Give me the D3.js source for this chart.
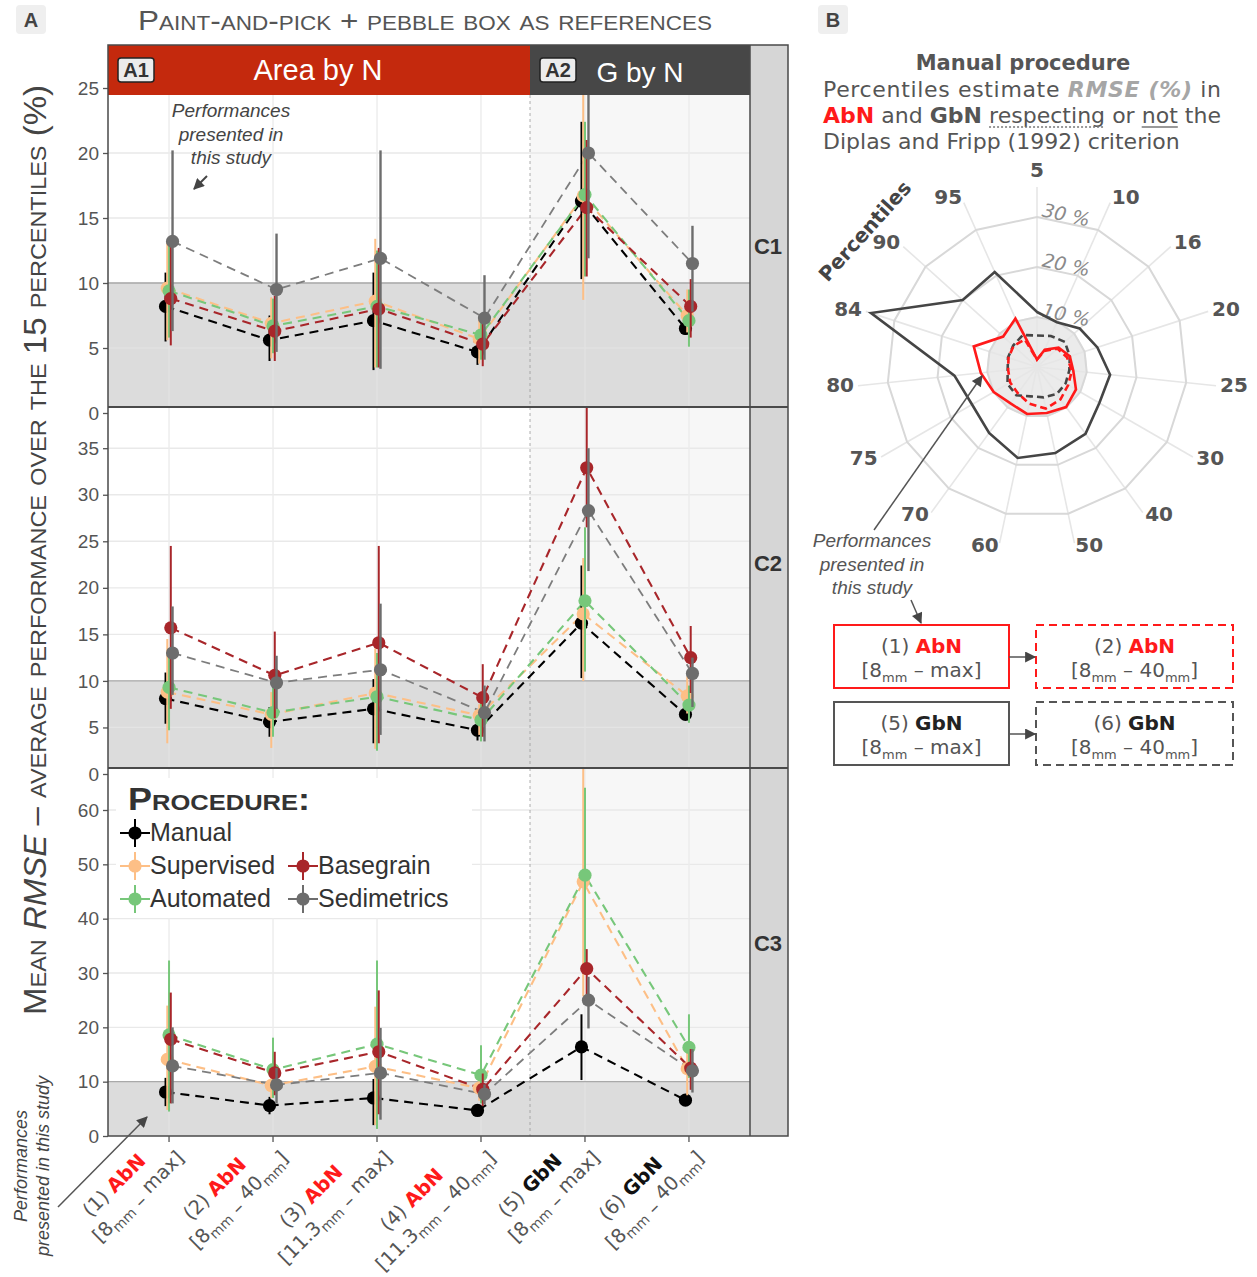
<!DOCTYPE html>
<html>
<head>
<meta charset="utf-8">
<title>Mean RMSE by procedure</title>
<script src="https://cdn.jsdelivr.net/npm/d3@7"></script>
<style>
  html, body { margin: 0; padding: 0; background: #fff; }
  svg { display: block; }
</style>
</head>
<body>
<svg id="fig" width="1257" height="1277"></svg>
<script>
// ---------------- data: panel A ----------------
const categories = [1, 2, 3, 4, 5, 6];
const categoryNumber = ["(1)", "(2)", "(3)", "(4)", "(5)", "(6)"];
const categoryMethod = ["AbN", "AbN", "AbN", "AbN", "GbN", "GbN"];
const categoryFrom = ["8", "8", "11.3", "11.3", "8", "8"];
const categoryTo = ["max", "40", "max", "40", "max", "40"];

const procedures = ["Manual", "Supervised", "Automated", "Basegrain", "Sedimetrics"];
const rowNames = ["C1", "C2", "C3"];
const c1Ticks = [0, 5, 10, 15, 20, 25];
const c2Ticks = [0, 5, 10, 15, 20, 25, 30, 35];
const c3Ticks = [0, 10, 20, 30, 40, 50, 60];

// one row per procedure (Manual, Supervised, Automated, Basegrain, Sedimetrics)
const c1Mean = [
  [8.2, 5.6, 7.1, 4.7, 16.3, 6.5],
  [9.6, 6.9, 8.6, 5.7, 16.7, 7.5],
  [9.4, 6.7, 8.2, 6.0, 16.8, 7.1],
  [8.8, 6.3, 8.0, 5.3, 15.8, 8.2],
  [13.2, 9.5, 11.9, 7.3, 20.0, 11.5]
];
const c1Low = [
  [5.5, 4.0, 3.3, 3.7, 10.3, 6.0],
  [5.6, 4.2, 3.5, 3.8, 8.7, 6.2],
  [5.8, 4.6, 3.5, 4.1, 10.5, 5.1],
  [5.2, 4.0, 3.5, 3.6, 10.5, 5.8],
  [6.3, 4.7, 3.4, 4.1, 11.9, 7.8]
];
const c1High = [
  [10.8, 7.5, 10.8, 5.6, 22.4, 7.2],
  [13.2, 8.9, 13.4, 7.3, 25.5, 9.5],
  [12.9, 8.8, 12.5, 7.4, 22.4, 9.5],
  [12.8, 9.0, 12.7, 7.0, 21.0, 10.3],
  [20.2, 13.8, 20.2, 10.6, 26.5, 14.4]
];

const c2Mean = [
  [8.1, 5.6, 7.0, 4.7, 16.2, 6.4],
  [8.8, 6.4, 8.7, 6.3, 17.2, 8.4],
  [9.3, 6.6, 8.3, 5.8, 18.6, 7.4],
  [15.7, 10.6, 14.1, 8.2, 32.9, 12.5],
  [13.0, 9.8, 11.2, 6.6, 28.3, 10.8]
];
const c2Low = [
  [5.4, 4.0, 3.3, 3.6, 10.3, 5.8],
  [3.3, 2.8, 2.7, 4.2, 10.0, 6.5],
  [4.7, 4.0, 2.5, 3.5, 11.0, 5.5],
  [7.0, 6.0, 3.3, 4.0, 26.5, 8.7],
  [8.5, 7.0, 4.2, 3.5, 21.8, 7.2]
];
const c2High = [
  [10.9, 7.2, 10.2, 5.6, 22.4, 7.0],
  [14.5, 8.8, 13.5, 7.5, 23.2, 10.5],
  [13.0, 9.3, 13.0, 7.7, 26.5, 9.5],
  [24.5, 15.3, 24.5, 11.8, 41.0, 15.9],
  [18.0, 12.7, 18.3, 9.5, 35.0, 12.5]
];

const c3Mean = [
  [8.1, 5.6, 7.0, 4.7, 16.4, 6.6],
  [14.1, 9.3, 12.8, 8.8, 46.8, 12.4],
  [18.6, 12.2, 16.9, 11.2, 48.0, 16.3],
  [17.8, 11.6, 15.5, 8.6, 30.8, 12.5],
  [12.9, 9.4, 11.6, 7.7, 25.0, 12.0]
];
const c3Low = [
  [5.5, 4.0, 2.0, 3.8, 10.3, 5.8],
  [4.8, 7.0, 2.0, 6.5, 25.7, 7.5],
  [4.5, 7.0, 1.3, 6.0, 30.0, 10.7],
  [6.0, 7.5, 4.0, 5.5, 25.0, 8.5],
  [6.0, 6.0, 3.0, 5.8, 19.8, 8.0]
];
const c3High = [
  [10.7, 7.2, 10.5, 5.6, 22.4, 7.4],
  [24.0, 12.5, 23.8, 11.5, 72.0, 17.0],
  [32.3, 18.1, 32.3, 16.7, 64.1, 22.4],
  [26.4, 15.5, 26.8, 11.5, 34.4, 16.0],
  [20.0, 12.5, 19.9, 9.5, 29.3, 16.0]
];

// ---------------- data: panel B (radar) ----------------
const radarPercentiles = ["5", "10", "16", "20", "25", "30", "40", "50", "60", "70", "75", "80", "84", "90", "95"];
const radarRings = [10, 20, 30];
const radarGbNMax = [11.0, 9.8, 11.5, 12.7, 14.7, 14.4, 16.5, 17.6, 18.6, 16.3, 15.0, 16.6, 34.9, 20.0, 20.8];
const radarGbN40 = [6.3, 6.8, 7.5, 6.9, 6.5, 6.6, 6.7, 6.2, 6.0, 7.0, 6.8, 5.9, 6.1, 6.4, 7.0];
const radarAbNMax = [1.5, 3.8, 5.8, 6.9, 7.3, 9.0, 9.9, 9.4, 9.6, 9.0, 10.0, 11.3, 13.3, 9.1, 10.6];
const radarAbN40 = [1.5, 3.5, 5.5, 6.3, 7.0, 7.2, 8.0, 8.5, 7.5, 6.5, 6.2, 5.8, 6.0, 6.3, 6.0];

const keyNumber = ["(1)", "(2)", "(5)", "(6)"];
const keyMethod = ["AbN", "AbN", "GbN", "GbN"];
const keyTo = ["max", "40", "max", "40"];

// ---------------- styling ----------------
const SANS = "'Liberation Sans', Arial, sans-serif";
const VERD = "'DejaVu Sans', Verdana, sans-serif";
const procColor = d3.scaleOrdinal().domain(procedures)
  .range(["#000000", "#fdbf86", "#77c77a", "#a8262a", "#6d6d6d"]);
const lineColor = d3.scaleOrdinal().domain(procedures)
  .range(["#000000", "#fdbf86", "#77c77a", "#a8262a", "#7d7d7d"]);
const RED = "#ff1a1a";
const DARK = "#454545";

const svg = d3.select("#fig").attr("font-family", SANS);
const defs = svg.append("defs");
defs.append("marker").attr("id", "arrow")
  .attr("viewBox", "0 0 10 10").attr("refX", 9).attr("refY", 5)
  .attr("markerUnits", "userSpaceOnUse")
  .attr("markerWidth", 13).attr("markerHeight", 11)
  .attr("orient", "auto")
  .append("path").attr("d", "M0,0L10,5L0,10z").attr("fill", DARK);

// ---------------- panel A layout ----------------
const plotL = 108, plotR = 750, stripR = 788, splitX = 530;
const stripTop = 45, stripBottom = 95;
const rowLayout = [
  { top: stripTop, dataTop: stripBottom, bottom: 407, range: [413, 88], domain: [0, 25], labelY: 248 },
  { top: 407, dataTop: 407, bottom: 768, range: [774, 448.2], domain: [0, 35], labelY: 565 },
  { top: 768, dataTop: 768, bottom: 1136, range: [1136, 810], domain: [0, 60], labelY: 945 }
];
const rowTicks = [c1Ticks, c2Ticks, c3Ticks];
const rowMean = [c1Mean, c2Mean, c3Mean];
const rowLow = [c1Low, c2Low, c3Low];
const rowHigh = [c1High, c2High, c3High];

const x = d3.scalePoint().domain(categories).range([plotL, plotR]).padding(0.587);
const dodge = d3.scalePoint().domain(procedures).range([-3.5, 3.5]);

rowNames.forEach((name, r) => {
  const L = rowLayout[r];
  const y = d3.scaleLinear().domain(L.domain).range(L.range);
  const clipId = "clip-" + name;
  defs.append("clipPath").attr("id", clipId).append("rect")
    .attr("x", plotL).attr("y", L.dataTop)
    .attr("width", plotR - plotL).attr("height", L.bottom - L.dataTop);

  const g = svg.append("g");
  const clipped = g.append("g").attr("clip-path", `url(#${clipId})`);
  // backgrounds of the two facet columns
  clipped.append("rect").attr("x", plotL).attr("y", L.dataTop)
    .attr("width", splitX - plotL).attr("height", L.bottom - L.dataTop).attr("fill", "#ffffff");
  clipped.append("rect").attr("x", splitX).attr("y", L.dataTop)
    .attr("width", plotR - splitX).attr("height", L.bottom - L.dataTop).attr("fill", "#f7f7f7");
  // grid
  clipped.selectAll("line.hg").data(rowTicks[r]).join("line")
    .attr("x1", plotL).attr("x2", plotR).attr("y1", d => y(d)).attr("y2", d => y(d))
    .attr("stroke", "#e9e9e9").attr("stroke-width", 1.4);
  clipped.selectAll("line.vg").data(categories).join("line")
    .attr("x1", d => x(d)).attr("x2", d => x(d)).attr("y1", L.dataTop).attr("y2", L.bottom)
    .attr("stroke", "#ececec").attr("stroke-width", 1.4);
  // shaded band below 10 %
  const y10 = y(10);
  clipped.append("rect").attr("x", plotL).attr("y", y10)
    .attr("width", plotR - plotL).attr("height", L.bottom - y10).attr("fill", "#dcdcdc");
  clipped.selectAll("line.hg2").data(rowTicks[r].filter(t => t < 10)).join("line")
    .attr("x1", plotL).attr("x2", plotR).attr("y1", d => y(d)).attr("y2", d => y(d))
    .attr("stroke", "#e4e4e4").attr("stroke-width", 1.2);
  clipped.selectAll("line.vg2").data(categories).join("line")
    .attr("x1", d => x(d)).attr("x2", d => x(d)).attr("y1", y10).attr("y2", L.bottom)
    .attr("stroke", "#e3e3e3").attr("stroke-width", 1.2);
  clipped.append("line").attr("x1", plotL).attr("x2", plotR).attr("y1", y10).attr("y2", y10)
    .attr("stroke", "#a9a9a9").attr("stroke-width", 1.4);
  // separator between the two methods
  clipped.append("line").attr("x1", splitX).attr("x2", splitX).attr("y1", L.dataTop).attr("y2", L.bottom)
    .attr("stroke", "#9a9a9a").attr("stroke-width", 0.8).attr("stroke-dasharray", "3,3");

  // dashed connecting lines
  const line = d3.line();
  procedures.forEach((p, k) => {
    const pts = rowMean[r][k].map((v, i) => [x(categories[i]) + dodge(p), y(v)]);
    clipped.append("path").attr("d", line(pts)).attr("fill", "none")
      .attr("stroke", lineColor(p)).attr("stroke-width", p === "Sedimetrics" ? 1.8 : 2.1)
      .attr("stroke-dasharray", "9,6");
  });
  // error bars and points
  procedures.forEach((p, k) => {
    const gp = clipped.append("g");
    categories.forEach((c, i) => {
      const cx = x(c) + dodge(p);
      gp.append("line").attr("x1", cx).attr("x2", cx)
        .attr("y1", y(rowLow[r][k][i])).attr("y2", y(rowHigh[r][k][i]))
        .attr("stroke", procColor(p)).attr("stroke-width", p === "Sedimetrics" ? 2.4 : 2);
      gp.append("circle").attr("cx", cx).attr("cy", y(rowMean[r][k][i])).attr("r", 6.6)
        .attr("fill", procColor(p));
    });
  });

  // y axis
  const ax = svg.append("g").attr("transform", `translate(${plotL},0)`)
    .call(d3.axisLeft(y).tickValues(rowTicks[r]).tickSize(5).tickPadding(4));
  ax.select(".domain").remove();
  ax.selectAll(".tick line").attr("stroke", "#555").attr("stroke-width", 1.3);
  ax.selectAll(".tick text").attr("font-size", 19).attr("fill", "#555").attr("font-family", SANS);

  // facet strip on the right
  svg.append("rect").attr("x", plotR).attr("y", L.top).attr("width", stripR - plotR)
    .attr("height", L.bottom - L.top).attr("fill", "#d6d6d6");
  svg.append("text").attr("x", (plotR + stripR) / 2 - 1).attr("y", L.labelY)
    .attr("text-anchor", "middle").attr("dominant-baseline", "middle")
    .attr("font-size", 22).attr("font-weight", "bold").attr("fill", "#333").text(name);
});

// top strips
svg.append("rect").attr("x", plotL).attr("y", stripTop).attr("width", splitX - plotL)
  .attr("height", stripBottom - stripTop).attr("fill", "#c4290d");
svg.append("rect").attr("x", splitX).attr("y", stripTop).attr("width", plotR - splitX)
  .attr("height", stripBottom - stripTop).attr("fill", "#474747");
function stripTag(x0, label) {
  svg.append("rect").attr("x", x0).attr("y", 58).attr("width", 36).attr("height", 24).attr("rx", 3)
    .attr("fill", "#ececec").attr("stroke", "#222").attr("stroke-width", 1.5);
  svg.append("text").attr("x", x0 + 18).attr("y", 77).attr("text-anchor", "middle")
    .attr("font-size", 20).attr("font-weight", "bold").attr("fill", "#333").text(label);
}
stripTag(118, "A1");
stripTag(540, "A2");
svg.append("text").attr("x", 318).attr("y", 80).attr("text-anchor", "middle")
  .attr("font-size", 29).attr("fill", "#fff").text("Area by N");
svg.append("text").attr("x", 640).attr("y", 82).attr("text-anchor", "middle")
  .attr("font-size", 28).attr("fill", "#fff").text("G by N");

// frame lines of panel A
const frame = svg.append("g").attr("stroke", "#4a4a4a").attr("fill", "none");
frame.append("rect").attr("x", plotL).attr("y", stripTop).attr("width", stripR - plotL)
  .attr("height", 1136 - stripTop).attr("stroke-width", 1.5);
[407, 768].forEach(yy => frame.append("line").attr("x1", plotL).attr("x2", stripR)
  .attr("y1", yy).attr("y2", yy).attr("stroke-width", 2));
frame.append("line").attr("x1", plotR).attr("x2", plotR).attr("y1", stripTop).attr("y2", 1136).attr("stroke-width", 1.5);

// x axis ticks and labels
svg.selectAll("line.xt").data(categories).join("line")
  .attr("x1", d => x(d)).attr("x2", d => x(d)).attr("y1", 1136).attr("y2", 1142)
  .attr("stroke", "#555").attr("stroke-width", 1.3);
categories.forEach((c, i) => {
  const g = svg.append("g").attr("transform", `translate(${x(c) + 16},${1159}) rotate(-45)`)
    .attr("font-family", VERD).attr("font-size", 19.5).attr("fill", "#555");
  const t2 = g.append("text").attr("text-anchor", "end");
  t2.append("tspan").text("[" + categoryFrom[i]);
  t2.append("tspan").attr("font-size", 14).attr("dy", 5).text("mm");
  if (categoryTo[i] === "max") {
    t2.append("tspan").text(" – ");
    t2.append("tspan").attr("dy", -5).text("max]");
  } else {
    t2.append("tspan").text(" – ");
    t2.append("tspan").attr("dy", -5).text(categoryTo[i]);
    t2.append("tspan").attr("font-size", 14).attr("dy", 5).text("mm");
    t2.append("tspan").attr("dy", -5).text("]");
  }
  const w2 = t2.node().getComputedTextLength();
  const t1 = g.append("text").attr("text-anchor", "middle").attr("x", -w2 / 2 - 9).attr("y", -25);
  t1.append("tspan").text(categoryNumber[i] + " ");
  t1.append("tspan").attr("font-weight", "bold")
    .attr("fill", categoryMethod[i] === "AbN" ? RED : "#111").text(categoryMethod[i]);
});

// legend inside C3
const leg = svg.append("g");
leg.append("rect").attr("x", 116).attr("y", 778).attr("width", 356).attr("height", 140).attr("fill", "#fff");
leg.append("text").attr("x", 128).attr("y", 810).attr("font-size", 31).attr("font-weight", "bold")
  .attr("font-variant", "small-caps").attr("fill", "#333")
  .attr("textLength", 182).attr("lengthAdjust", "spacingAndGlyphs").text("Procedure:");
const legPos = [[135, 833], [135, 866], [135, 899], [303, 866], [303, 899]];
procedures.forEach((p, k) => {
  const [kx, ky] = legPos[k];
  leg.append("line").attr("x1", kx - 15).attr("x2", kx + 15).attr("y1", ky).attr("y2", ky)
    .attr("stroke", procColor(p)).attr("stroke-width", 2);
  leg.append("line").attr("x1", kx).attr("x2", kx).attr("y1", ky - 14).attr("y2", ky + 14)
    .attr("stroke", procColor(p)).attr("stroke-width", 2);
  leg.append("circle").attr("cx", kx).attr("cy", ky).attr("r", 6.6).attr("fill", procColor(p));
  leg.append("text").attr("x", kx + 15).attr("y", ky + 8).attr("font-size", 25).attr("fill", "#333").text(p);
});

// annotations in panel A
const noteA = svg.append("text").attr("text-anchor", "middle").attr("font-size", 19)
  .attr("font-style", "italic").attr("fill", "#444");
["Performances", "presented in", "this study"].forEach((s, i) =>
  noteA.append("tspan").attr("x", 231).attr("y", 117 + i * 23.5).text(s));
svg.append("line").attr("x1", 207).attr("y1", 176).attr("x2", 194).attr("y2", 189)
  .attr("stroke", DARK).attr("stroke-width", 2).attr("marker-end", "url(#arrow)");

const noteL = svg.append("text").attr("transform", "translate(0,1166) rotate(-90)")
  .attr("text-anchor", "middle").attr("font-size", 18).attr("font-style", "italic").attr("fill", "#444");
noteL.append("tspan").attr("x", 0).attr("y", 27).text("Performances");
noteL.append("tspan").attr("x", 0).attr("y", 49).text("presented in this study");
svg.append("line").attr("x1", 58).attr("y1", 1207).attr("x2", 147).attr("y2", 1117)
  .attr("stroke", "#555").attr("stroke-width", 1.5).attr("marker-end", "url(#arrow)");

// axis title and panel title
const yt = svg.append("text").attr("transform", "translate(46,550) rotate(-90)")
  .attr("text-anchor", "middle").attr("font-size", 31).attr("font-variant", "small-caps")
  .attr("fill", "#444").attr("textLength", 930).attr("lengthAdjust", "spacingAndGlyphs");
yt.append("tspan").text("Mean ");
yt.append("tspan").attr("font-style", "italic").text("RMSE");
yt.append("tspan").text(" – average performance over the 15 percentiles (%)");

svg.append("text").attr("x", 425).attr("y", 30).attr("text-anchor", "middle")
  .attr("font-size", 28).attr("font-variant", "small-caps").attr("fill", "#555")
  .attr("textLength", 574).attr("lengthAdjust", "spacingAndGlyphs")
  .text("Paint-and-pick + pebble box as references");

function panelTag(x0, label) {
  svg.append("rect").attr("x", x0).attr("y", 5).attr("width", 30).attr("height", 29).attr("rx", 4).attr("fill", "#efefef");
  svg.append("text").attr("x", x0 + 15).attr("y", 27).attr("text-anchor", "middle")
    .attr("font-size", 20).attr("font-weight", "bold").attr("fill", "#444").text(label);
}
panelTag(16, "A");
panelTag(818, "B");

// ---------------- panel B ----------------
const bText = svg.append("g").attr("font-family", VERD).attr("fill", "#555");
bText.append("text").attr("x", 1023).attr("y", 70).attr("text-anchor", "middle")
  .attr("font-size", 21).attr("font-weight", "bold").text("Manual procedure");
const l1 = bText.append("text").attr("x", 823).attr("y", 97).attr("font-size", 22)
  .attr("textLength", 398).attr("lengthAdjust", "spacing");
l1.append("tspan").text("Percentiles estimate ");
l1.append("tspan").attr("font-weight", "bold").attr("font-style", "italic").attr("fill", "#a6a6a6").text("RMSE (%)");
l1.append("tspan").text(" in");
const l2 = bText.append("text").attr("x", 823).attr("y", 123).attr("font-size", 22)
  .attr("textLength", 398).attr("lengthAdjust", "spacing");
l2.append("tspan").attr("font-weight", "bold").attr("fill", RED).text("AbN");
l2.append("tspan").text(" and ");
l2.append("tspan").attr("font-weight", "bold").text("GbN");
l2.append("tspan").text(" respecting or not the");
bText.append("text").attr("x", 823).attr("y", 149).attr("font-size", 22)
  .text("Diplas and Fripp (1992) criterion");
function underline(textNode, from, to, dash) {
  const a = textNode.getExtentOfChar(from), b = textNode.getExtentOfChar(to);
  bText.append("line").attr("x1", a.x).attr("x2", b.x + b.width).attr("y1", 127).attr("y2", 127)
    .attr("stroke", "#777").attr("stroke-width", 1.3).attr("stroke-dasharray", dash);
}
const l2str = "AbN and GbN respecting or not the";
underline(l2.node(), l2str.indexOf("respecting"), l2str.indexOf("respecting") + 9, "2,2");
underline(l2.node(), l2str.indexOf("not"), l2str.indexOf("not") + 2, null);

// radar
const rcx = 1037, rcy = 367;
const rScale = d3.scaleLinear().domain([0, 30]).range([0, 150]);
const angle = d3.scaleBand().domain(radarPercentiles).range([0, 2 * Math.PI]);
const radial = d3.lineRadial()
  .angle((d, i) => angle(radarPercentiles[i]))
  .radius(d => rScale(d))
  .curve(d3.curveLinearClosed);
const radar = svg.append("g").attr("transform", `translate(${rcx},${rcy})`);
radar.append("circle").attr("r", rScale(10)).attr("fill", "#ebebeb");
radar.selectAll("line.spoke").data(radarPercentiles).join("line")
  .attr("x1", 0).attr("y1", 0)
  .attr("x2", d => d3.pointRadial(angle(d), rScale(36))[0])
  .attr("y2", d => d3.pointRadial(angle(d), rScale(36))[1])
  .attr("stroke", "#e6e6e6").attr("stroke-width", 1.6);
radarRings.forEach(v => {
  radar.append("path").attr("d", radial(radarPercentiles.map(() => v)))
    .attr("fill", "none").attr("stroke", "#d8d8d8").attr("stroke-width", 2);
});
radarRings.forEach(v => {
  radar.append("text").attr("transform", `translate(29,${-rScale(v) - 1}) rotate(12)`)
    .attr("text-anchor", "middle").attr("dominant-baseline", "middle")
    .attr("font-family", VERD).attr("font-size", 19).attr("font-style", "italic")
    .attr("fill", "#8a8a8a").text(v + " %");
});
// percentile labels sit just outside the spoke ends, pushed sideways by their own width
const labelR = rScale(36.8);
radar.selectAll("text.pl").data(radarPercentiles).join("text")
  .each(function (d) {
    const a = angle(d);
    const [px, py] = d3.pointRadial(a, labelR);
    const s = Math.sin(a);
    const t = d3.select(this).attr("dominant-baseline", "middle");
    if (Math.abs(s) < 0.05) {
      t.attr("x", px).attr("y", py - 12).attr("text-anchor", "middle");
    } else {
      t.attr("x", px).attr("y", py).attr("text-anchor", s > 0 ? "start" : "end");
    }
  })
  .attr("font-family", VERD).attr("font-size", 20).attr("font-weight", "bold")
  .attr("fill", "#555").text(d => d);
const series = [
  [radarGbNMax, DARK, null],
  [radarGbN40, DARK, "7,4"],
  [radarAbNMax, RED, null],
  [radarAbN40, RED, "7,4"]
];
series.forEach(([vals, col, dash]) => {
  radar.append("path").attr("d", radial(vals)).attr("fill", "none")
    .attr("stroke", col).attr("stroke-width", 2.6).attr("stroke-linejoin", "miter")
    .attr("stroke-dasharray", dash);
});
svg.append("text").attr("transform", "translate(866,232) rotate(-48)")
  .attr("text-anchor", "middle").attr("dominant-baseline", "middle")
  .attr("font-family", VERD).attr("font-size", 20).attr("font-weight", "bold")
  .attr("fill", "#444").text("Percentiles");

// annotation in panel B
const noteB = svg.append("text").attr("text-anchor", "middle").attr("font-size", 19)
  .attr("font-style", "italic").attr("fill", "#555");
["Performances", "presented in", "this study"].forEach((s, i) =>
  noteB.append("tspan").attr("x", 872).attr("y", 547 + i * 23.5).text(s));
svg.append("line").attr("x1", 874).attr("y1", 530).attr("x2", 982).attr("y2", 376)
  .attr("stroke", "#555").attr("stroke-width", 1.5).attr("marker-end", "url(#arrow)");
svg.append("line").attr("x1", 911).attr("y1", 600).attr("x2", 921).attr("y2", 623)
  .attr("stroke", "#555").attr("stroke-width", 1.5).attr("marker-end", "url(#arrow)");

// key boxes
const boxPos = [[834, 625], [1036, 625], [834, 702], [1036, 702]];
const boxW = [175, 197, 175, 197], boxH = 63;
keyNumber.forEach((n, i) => {
  const [bx, by] = boxPos[i];
  const col = keyMethod[i] === "AbN" ? RED : "#555";
  svg.append("rect").attr("x", bx).attr("y", by).attr("width", boxW[i]).attr("height", boxH)
    .attr("fill", "#fff").attr("stroke", col).attr("stroke-width", 2)
    .attr("stroke-dasharray", keyTo[i] === "max" ? null : "8,5");
  const cx = bx + boxW[i] / 2;
  const t1 = svg.append("text").attr("x", cx).attr("y", by + 28).attr("text-anchor", "middle")
    .attr("font-family", VERD).attr("font-size", 20).attr("fill", "#555");
  t1.append("tspan").text(n + " ");
  t1.append("tspan").attr("font-weight", "bold").attr("fill", keyMethod[i] === "AbN" ? RED : "#222").text(keyMethod[i]);
  const t2 = svg.append("text").attr("x", cx).attr("y", by + 52).attr("text-anchor", "middle")
    .attr("font-family", VERD).attr("font-size", 20).attr("fill", "#555");
  t2.append("tspan").text("[8");
  t2.append("tspan").attr("font-size", 13).attr("dy", 5).text("mm");
  if (keyTo[i] === "max") {
    t2.append("tspan").attr("dy", -5).text(" – max]");
  } else {
    t2.append("tspan").attr("dy", -5).text(" – 40");
    t2.append("tspan").attr("font-size", 13).attr("dy", 5).text("mm");
    t2.append("tspan").attr("dy", -5).text("]");
  }
});
[657, 734].forEach(yy => svg.append("line").attr("x1", 1009).attr("x2", 1035).attr("y1", yy).attr("y2", yy)
  .attr("stroke", "#555").attr("stroke-width", 1.5).attr("marker-end", "url(#arrow)"));
</script>
</body>
</html>
